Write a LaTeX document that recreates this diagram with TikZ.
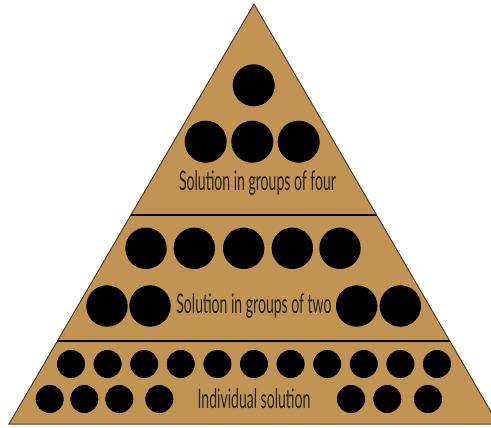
\documentclass[tikz,border=0pt]{standalone}
\usepackage{fontspec}
\setmainfont{Lato}
\usetikzlibrary{calc}
\definecolor{PyraTan}{RGB}{194,148,83}
\definecolor{PyraEdge}{RGB}{80,62,35}
\definecolor{LabelInk}{RGB}{40,34,28}

\begin{document}
\begin{tikzpicture}[x=1pt,y=-1pt,
    label text/.style={text=LabelInk,font=\fontsize{27}{27}\selectfont,xscale=0.52,inner sep=0pt},
    big dot/.style={fill=black},
    divider/.style={draw=black,line width=1.2pt}]
  \useasboundingbox (0,0) rectangle (491,428);
  \clip (0,0) rectangle (491,428);

  % pyramid outline
  \coordinate (apex) at (254,4);
  \coordinate (base left) at (9,424);
  \coordinate (base right) at (498,424);
  \filldraw[fill=PyraTan,draw=PyraEdge,line width=1pt] (apex) -- (base left) -- (base right) -- cycle;

  % level dividers
  \coordinate (upper l) at ($(apex)!0.5024!(base left)$);
  \coordinate (upper r) at ($(apex)!0.5024!(base right)$);
  \coordinate (lower l) at ($(apex)!0.8024!(base left)$);
  \coordinate (lower r) at ($(apex)!0.8024!(base right)$);
  \draw[divider] (upper l) -- (upper r);
  \draw[divider] (lower l) -- (lower r);

  % groups of four
  \fill[big dot] (253.7,85.3) circle (21);
  \foreach \x in {205.7,252.3,298.7}
    \fill[big dot] (\x,141.7) circle (21);
  \node[label text] (four) at (257.5,183) {Solution in groups of four};

  % groups of two
  \foreach \x in {146,194.3,243.7,292.3,340}
    \fill[big dot] (\x,248.3) circle (20.7);
  \foreach \x in {107,150,356.7,400.3}
    \fill[big dot] (\x,306) circle (20.7);
  \node[label text] (two) at (254,306) {Solution in groups of two};

  % individual
  \foreach \i in {0,...,10}
    \fill[big dot] ({71+36.6*\i},364) circle (14);
  \foreach \x in {49.7,84.3,119.3,159.3,351,387.3,428}
    \fill[big dot] (\x,399) circle (14);
  \node[label text] (single) at (254,399) {Individual solution};
\end{tikzpicture}
\end{document}
